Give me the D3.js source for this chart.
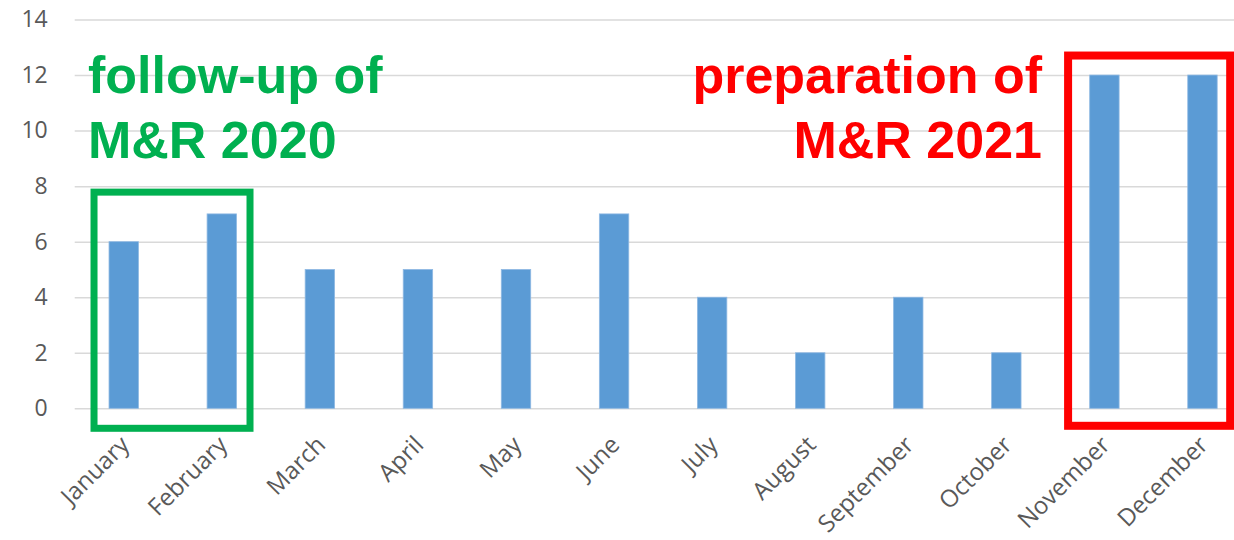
<!DOCTYPE html>
<html>
<head>
<script src="https://cdnjs.cloudflare.com/ajax/libs/d3/7.8.5/d3.min.js"></script>
  <meta charset="utf-8">
  <title>M&R per month</title>
</head>
<style>
body { margin: 0; background: #fff; }
svg { display: block; }
.tick text { font: 23px "Open Sans", sans-serif; fill: #595959; }
.month .tick text { font-size: 24px; }
.note { font: bold 52px "Liberation Sans", Arial, sans-serif; }
</style>
<body>
<script>

var months = ['January', 'February', 'March', 'April', 'May', 'June', 'July',
              'August', 'September', 'October', 'November', 'December'];
var counts = [6, 7, 5, 5, 5, 7, 4, 2, 4, 2, 12, 12];
var yTicks = [0, 2, 4, 6, 8, 10, 12, 14];

var W = 1234, H = 540;
var plotLeft = 74.7, plotRight = 1251.5, plotTop = 19.5, plotBottom = 408.3;

var svg = d3.select('body').append('svg')
  .attr('width', W)
  .attr('height', H);

var x = d3.scaleBand()
  .domain(months)
  .range([plotLeft, plotRight])
  .paddingInner(0.7)
  .paddingOuter(0.35);

var y = d3.scaleLinear()
  .domain([0, 14])
  .range([plotBottom, plotTop]);

// gridlines + y labels
var yAxis = svg.append('g')
  .attr('transform', 'translate(' + plotLeft + ',0)')
  .call(d3.axisLeft(y).tickValues(yTicks).tickSize(-(plotRight - plotLeft)).tickPadding(27));
yAxis.select('.domain').remove();
yAxis.selectAll('.tick line').attr('stroke', '#d9d9d9').attr('stroke-width', 1.5);

// bars
svg.selectAll('rect.bar').data(counts).enter().append('rect')
  .attr('class', 'bar')
  .attr('x', function(d, i) { return x(months[i]); })
  .attr('y', function(d) { return y(d); })
  .attr('width', x.bandwidth())
  .attr('height', function(d) { return y(0) - y(d); })
  .attr('fill', '#5b9bd5')
  .attr('stroke', '#8fb9e3')
  .attr('stroke-width', 0.8);

// month labels
var xAxis = svg.append('g')
  .attr('class', 'month')
  .attr('transform', 'translate(0,' + plotBottom + ')')
  .call(d3.axisBottom(x).tickSize(0).tickPadding(0));
xAxis.select('.domain').remove();
xAxis.selectAll('.tick text')
  .attr('text-anchor', 'end')
  .attr('dy', 0)
  .attr('transform', 'translate(7,38) rotate(-45)');

// highlight boxes
var bw = x.bandwidth();
svg.append('rect')
  .attr('x', x('January') - 15)
  .attr('y', y(8) + 6)
  .attr('width', (x('February') + bw + 13.5) - (x('January') - 15))
  .attr('height', (y(0) + 20) - (y(8) + 6))
  .attr('fill', 'none')
  .attr('stroke', '#00b050')
  .attr('stroke-width', 7);

svg.append('rect')
  .attr('x', x('November') - 21.6)
  .attr('y', y(12) - 19.5)
  .attr('width', (x('December') + bw + 13) - (x('November') - 21.6))
  .attr('height', (y(0) + 17.5) - (y(12) - 19.5))
  .attr('fill', 'none')
  .attr('stroke', '#ff0000')
  .attr('stroke-width', 8);

// notes
var green = svg.append('text').attr('class', 'note').attr('fill', '#00b050');
green.append('tspan').attr('x', 88).attr('y', 93).text('follow-up of');
green.append('tspan').attr('x', 88).attr('y', 158).text('M&R 2020');

var red = svg.append('text').attr('class', 'note').attr('fill', '#ff0000').attr('text-anchor', 'end');
red.append('tspan').attr('x', 1042).attr('y', 93).text('preparation of');
red.append('tspan').attr('x', 1042).attr('y', 158).text('M&R 2021');

</script>
</body>
</html>
